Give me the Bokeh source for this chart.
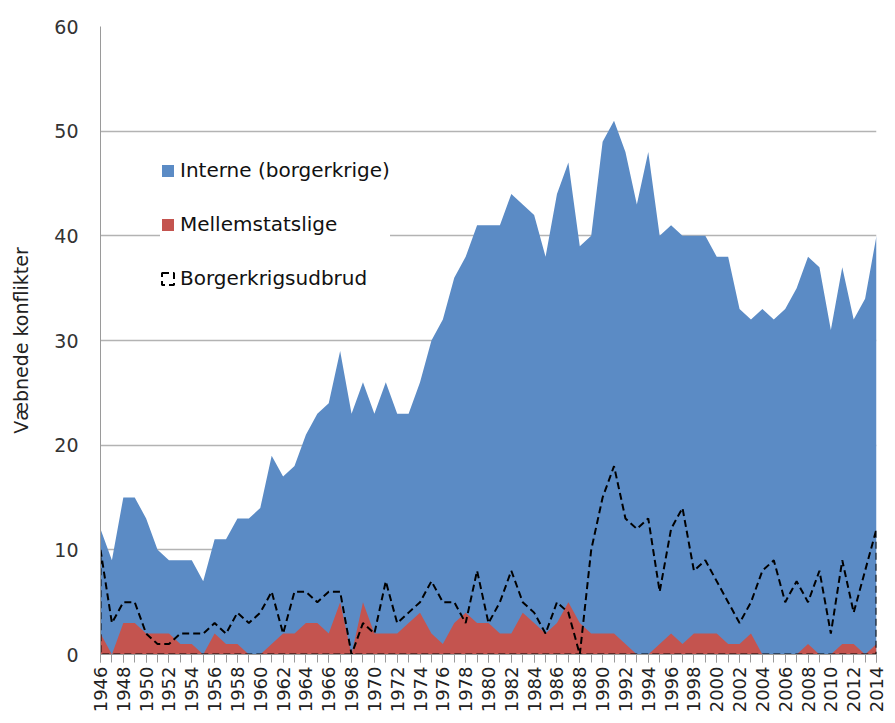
from bokeh.plotting import figure
from bokeh.models import Range1d, FixedTicker, Legend, LegendItem, ColumnDataSource
from bokeh.embed import file_html
from bokeh.resources import INLINE
import math

years = list(range(1946, 2015))
interne = [12, 9, 15, 15, 13, 10, 9, 9, 9, 7,
           11, 11, 13, 13, 14, 19, 17, 18, 21, 23,
           24, 29, 23, 26, 23, 26, 23, 23, 26, 30,
           32, 36, 38, 41, 41, 41, 44, 43, 42, 38,
           44, 47, 39, 40, 49, 51, 48, 43, 48, 40,
           41, 40, 40, 40, 38, 38, 33, 32, 33, 32,
           33, 35, 38, 37, 31, 37, 32, 34, 40]
mellemstatslige = [2, 0, 3, 3, 2, 2, 2, 1, 1, 0,
                   2, 1, 1, 0, 0, 1, 2, 2, 3, 3,
                   2, 5, 0, 5, 2, 2, 2, 3, 4, 2,
                   1, 3, 4, 3, 3, 2, 2, 4, 3, 2,
                   3, 5, 3, 2, 2, 2, 1, 0, 0, 1,
                   2, 1, 2, 2, 2, 1, 1, 2, 0, 0,
                   0, 0, 1, 0, 0, 1, 1, 0, 1]
udbrud = [10, 3, 5, 5, 2, 1, 1, 2, 2, 2,
          3, 2, 4, 3, 4, 6, 2, 6, 6, 5,
          6, 6, 0, 3, 2, 7, 3, 4, 5, 7,
          5, 5, 3, 8, 3, 5, 8, 5, 4, 2,
          5, 4, 0, 10, 15, 18, 13, 12, 13, 6,
          12, 14, 8, 9, 7, 5, 3, 5, 8, 9,
          5, 7, 5, 8, 2, 9, 4, 8, 12]
tick_years = list(range(1946, 2015, 2))

FONT = "DejaVu Sans"
BLUE = "#5B8BC5"
RED = "#C4544F"

p = figure(width=887, height=715, output_backend="svg", toolbar_location=None,
           x_range=Range1d(1946, 2014), y_range=Range1d(0, 60),
           min_border_left=100, min_border_right=11, min_border_top=26, min_border_bottom=59)
p.outline_line_color = None
p.background_fill_color = "white"
p.border_fill_color = "white"

src = ColumnDataSource(dict(x=years, interne=interne, mellem=mellemstatslige, udbrud=udbrud))

r_blue = p.varea(x="x", y1=0, y2="interne", source=src, fill_color=BLUE)
r_red = p.varea(x="x", y1=0, y2="mellem", source=src, fill_color=RED)
px = years + [years[-1], years[0]]
py = udbrud + [0, 0]
r_dash = p.patch(px, py, fill_alpha=0, line_color="black", line_width=2, line_dash="7 4")

# grid
p.xgrid.visible = False
p.ygrid.ticker = FixedTicker(ticks=[0, 10, 20, 30, 40, 50, 60])
p.ygrid.grid_line_color = "#b3b3b3"
p.ygrid.grid_line_width = 1.3

# y axis
p.yaxis.ticker = FixedTicker(ticks=[0, 10, 20, 30, 40, 50, 60])
p.yaxis.major_tick_line_color = None
p.yaxis.minor_tick_line_color = None
p.yaxis.axis_line_color = "#9a9a9a"
p.yaxis.major_label_standoff = 16
p.yaxis.major_label_text_font = FONT
p.yaxis.major_label_text_font_size = "19px"
p.yaxis.major_label_text_color = "#333333"
p.yaxis.axis_label = "Væbnede konflikter"
p.yaxis.axis_label_text_font = FONT
p.yaxis.axis_label_text_font_size = "19px"
p.yaxis.axis_label_text_font_style = "normal"
p.yaxis.axis_label_text_color = "#222222"
p.yaxis.axis_label_standoff = 19

# x axis
p.xaxis.ticker = FixedTicker(ticks=tick_years, minor_ticks=years)
p.xaxis.major_label_orientation = math.pi / 2
p.xaxis.axis_line_color = "#9a9a9a"
p.xaxis.major_tick_line_color = "#9a9a9a"
p.xaxis.minor_tick_line_color = "#9a9a9a"
p.xaxis.major_tick_in = 0
p.xaxis.major_tick_out = 8
p.xaxis.minor_tick_in = 0
p.xaxis.minor_tick_out = 8
p.xaxis.major_label_standoff = 4
p.xaxis.major_label_text_font = FONT
p.xaxis.major_label_text_font_size = "18px"
p.xaxis.major_label_text_color = "#222222"

legend = Legend(items=[
    LegendItem(label="Interne (borgerkrige)", renderers=[r_blue]),
    LegendItem(label="Mellemstatslige", renderers=[r_red]),
    LegendItem(label="Borgerkrigsudbrud", renderers=[r_dash]),
], location=(60, 364))
legend.background_fill_color = "white"
legend.background_fill_alpha = 1
legend.border_line_color = None
legend.padding = 20
legend.spacing = 30
legend.label_height = 21
legend.glyph_height = 15
legend.glyph_width = 15
legend.label_standoff = 5
legend.label_text_font = FONT
legend.label_text_font_size = "20px"
legend.label_text_color = "#111111"
p.add_layout(legend, "center")

open("out.html", "w").write(file_html(p, INLINE))
